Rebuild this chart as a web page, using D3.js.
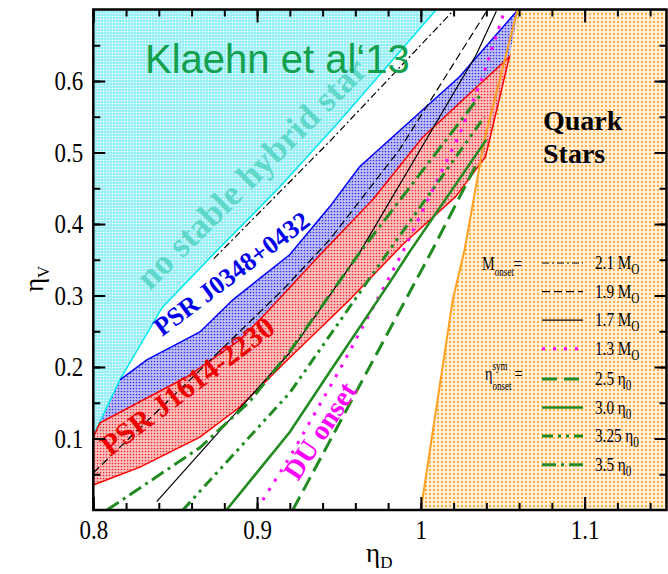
<!DOCTYPE html>
<html>
<head>
<meta charset="utf-8">
<script src="https://cdn.jsdelivr.net/npm/d3@7/dist/d3.min.js"></script>
<style>
  body { margin: 0; background: #fff; }
  svg { display: block; }
</style>
</head>
<body>
<svg id="chart" width="668" height="574"></svg>
<script>
"use strict";

// points are [eta_D, eta_V]
const cyanEdge  = [[0.8,0.104],[0.816,0.181],[0.842,0.283],[0.876,0.364],[0.914,0.452],[0.950,0.543],[1.0095,0.70]];
const blueUpper = [[0.8163,0.182],[0.8327,0.210],[0.8651,0.249],[0.8852,0.294],[0.9199,0.357],[0.9443,0.424],[0.9626,0.480],[1.0236,0.606],[1.0595,0.70]];
const redUpper  = [[0.8,0.102],[0.8041,0.122],[0.857,0.186],[0.8895,0.238],[0.9057,0.276],[0.9401,0.361],[0.9706,0.434],[1.001,0.521],[1.0358,0.595],[1.0541,0.634]];
const redLower  = [[0.8,0.035],[0.8285,0.060],[0.8651,0.102],[0.8895,0.144],[0.9199,0.213],[0.9565,0.294],[0.9888,0.371],[1.0212,0.438],[1.0395,0.494]];
const quarkEdge = [[1.0,0.0],[1.0195,0.294],[1.0267,0.364],[1.0388,0.518],[1.0591,0.70]];

// M_onset curves
const m21 = [[0.8736,0.3515],[0.9443,0.5154],[1.0205,0.70]];
const m19 = [[0.8,0.052],[0.859,0.182],[0.9157,0.308],[0.9443,0.378],[0.987,0.504],[1.040,0.697]];
const m17 = [[0.8387,0.0116],[0.9199,0.2199],[0.9626,0.360],[1.0339,0.637],[1.0461,0.6975]];
const m13 = [[0.9035,0.014],[0.920,0.074],[0.9504,0.196],[0.9888,0.360],[1.0102,0.462],[1.0236,0.525],[1.0376,0.605],[1.051,0.6975]];

// n_onset^sym curves
const n25  = [[0.9218,0.0],[1.0071,0.364],[1.0345,0.486]];
const n30  = [[0.8813,0.0],[0.920,0.109],[0.9443,0.193],[0.9809,0.318],[0.9931,0.361],[1.040,0.518]];
const n325 = [[0.8547,0.0],[0.920,0.164],[0.981,0.364],[1.0389,0.550]];
const n35  = [[0.8084,0.0],[0.865,0.087],[0.8956,0.152],[0.920,0.222],[0.9627,0.360],[1.0376,0.584]];

const xMajor = [0.8, 0.9, 1.0, 1.1];
const xTickLabels = ["0.8", "0.9", "1", "1.1"];
const yMajor = [0.1, 0.2, 0.3, 0.4, 0.5, 0.6];
const yTickLabels = ["0.1", "0.2", "0.3", "0.4", "0.5", "0.6"];

const legendKeys   = ["m21", "m19", "m17", "m13", "n25", "n30", "n325", "n35"];
const legendValues = ["2.1", "1.9", "1.7", "1.3", "2.5", "3.0", "3.25", "3.5"];
const legendUnits  = ["M", "M", "M", "M", "η", "η", "η", "η"];
const legendSubs   = ["O", "O", "O", "O", "0", "0", "0", "0"];

const curves = {m21: m21, m19: m19, m17: m17, m13: m13, n25: n25, n30: n30, n325: n325, n35: n35};

// line styles
const styles = {
    m21:  {stroke: "#000", width: 1.2, dash: "7,3,2,3"},
    m19:  {stroke: "#000", width: 1.2, dash: "8,4"},
    m17:  {stroke: "#000", width: 1.2, dash: null},
    m13:  {stroke: "#ff00ff", width: 3, dash: "3,8"},
    n25:  {stroke: "#228b22", width: 3, dash: "15,7"},
    n30:  {stroke: "#228b22", width: 2.6, dash: null},
    n325: {stroke: "#228b22", width: 3, dash: "11,5,3,5,3,5"},
    n35:  {stroke: "#228b22", width: 3, dash: "14,5,3,5"}
};

const svg = d3.select("#chart");
const x = d3.scaleLinear().domain([0.8, 1.15]).range([93.3, 666.5]);
const y = d3.scaleLinear().domain([0, 0.7]).range([510, 9.5]);

const line = d3.line().x(d => x(d[0])).y(d => y(d[1]));

const defs = svg.append("defs");
defs.append("clipPath").attr("id", "plotclip")
    .append("rect")
    .attr("x", x(0.8)).attr("y", y(0.7))
    .attr("width", x(1.15) - x(0.8)).attr("height", y(0) - y(0.7));

function dotPattern(id, bg, dot, size, r) {
    const p = defs.append("pattern").attr("id", id)
        .attr("patternUnits", "userSpaceOnUse")
        .attr("width", size).attr("height", size);
    p.append("rect").attr("width", size).attr("height", size).attr("fill", bg);
    p.append("circle").attr("cx", size / 2).attr("cy", size / 2).attr("r", r).attr("fill", dot);
}
dotPattern("pcyan", "#98eff6", "#ffffff", 3, 0.8);
dotPattern("pblue", "#c2c2f6", "#3434e0", 3, 0.85);
dotPattern("pred", "#fbc4c4", "#ee2a2a", 3, 0.85);
dotPattern("porange", "#fff3e2", "#ffb040", 4, 1.2);

const plot = svg.append("g").attr("clip-path", "url(#plotclip)");

// filled regions
plot.append("path")
    .attr("d", line([[0.8, 0.7]].concat(cyanEdge)) + "Z")
    .attr("fill", "url(#pcyan)");
plot.append("path")
    .attr("d", line(quarkEdge.concat([[1.15, 0.7], [1.15, 0]])) + "Z")
    .attr("fill", "url(#porange)");
plot.append("path")
    .attr("d", line(blueUpper.concat(redUpper.slice().reverse())) + "Z")
    .attr("fill", "url(#pblue)");
plot.append("path")
    .attr("d", line(redUpper.concat(redLower.slice().reverse())) + "Z")
    .attr("fill", "url(#pred)");

// region edges
plot.append("path").attr("d", line(cyanEdge)).attr("fill", "none").attr("stroke", "#00e8f0").attr("stroke-width", 1.5);
plot.append("path").attr("d", line(blueUpper)).attr("fill", "none").attr("stroke", "#0000ff").attr("stroke-width", 1.5);
plot.append("path").attr("d", line(redUpper.concat(redLower.slice().reverse())))
    .attr("fill", "none").attr("stroke", "#ff0000").attr("stroke-width", 1.5);
plot.append("path").attr("d", line(quarkEdge)).attr("fill", "none").attr("stroke", "#ffa020").attr("stroke-width", 2);

// onset curves
legendKeys.forEach(k => {
    const s = styles[k];
    plot.append("path").attr("d", line(curves[k]))
        .attr("fill", "none").attr("stroke", s.stroke)
        .attr("stroke-width", s.width)
        .attr("stroke-dasharray", s.dash);
});

// labels inside plot
const serif = "'Liberation Serif', 'Times New Roman', serif";
function rotText(tx, ty, ang, size, color, str) {
    svg.append("text")
        .attr("transform", `translate(${tx},${ty}) rotate(${ang})`)
        .attr("font-family", serif).attr("font-weight", "bold")
        .attr("font-size", size).attr("fill", color).text(str);
}
rotText(150, 291, -45, 35, "#5fd8c9", "no stable hybrid star");
rotText(162, 337, -37, 26, "#0000ee", "PSR J0348+0432");
rotText(110, 457, -37, 30, "#ee0000", "PSR J1614-2230");
rotText(298, 482, -57, 28, "#ff00ff", "DU onset");

svg.append("text").attr("x", 543).attr("y", 130)
    .attr("font-family", serif).attr("font-weight", "bold").attr("font-size", 28).text("Quark");
svg.append("text").attr("x", 543).attr("y", 163)
    .attr("font-family", serif).attr("font-weight", "bold").attr("font-size", 28).text("Stars");

svg.append("text").attr("x", 145).attr("y", 73)
    .attr("font-family", "'Liberation Sans', Arial, sans-serif")
    .attr("font-size", 40).attr("fill", "#14a04c").text("Klaehn et al‘13");

// legend
const legY = i => 263 + i * 28.6 + (i > 3 ? 1.5 : 0);
legendKeys.forEach((k, i) => {
    const s = styles[k];
    svg.append("line")
        .attr("x1", 542).attr("x2", 583).attr("y1", legY(i)).attr("y2", legY(i))
        .attr("stroke", s.stroke).attr("stroke-width", s.width)
        .attr("stroke-dasharray", s.dash);
    const t = svg.append("text")
        .attr("transform", `translate(595,${legY(i) + 6}) scale(0.8,1)`)
        .attr("font-family", serif).attr("font-size", 19);
    t.append("tspan").text(legendValues[i] + " " + legendUnits[i]);
    t.append("tspan").attr("font-size", 14).attr("dy", 5).text(legendSubs[i]);
});

const h1 = svg.append("text")
    .attr("transform", `translate(482,270) scale(0.75,1)`)
    .attr("font-family", serif).attr("font-size", 19);
h1.append("tspan").text("M");
h1.append("tspan").attr("font-size", 12).attr("dy", 6).text("onset");
h1.append("tspan").attr("dy", -6).text("=");

const h2 = svg.append("text")
    .attr("transform", `translate(485,380) scale(0.75,1)`)
    .attr("font-family", serif).attr("font-size", 19);
h2.append("tspan").text("η");
h2.append("tspan").attr("font-size", 12).attr("dy", -10).text("sym");
h2.append("tspan").attr("font-size", 12).attr("dx", -20).attr("dy", 20).text("onset");
h2.append("tspan").attr("dx", 4).attr("dy", -10).text("=");

// axes: ticks point inwards
function styleAxis(g) {
    g.select(".domain").remove();
    g.selectAll(".tick line").attr("stroke", "#000").attr("stroke-width", 2);
    g.selectAll("text").attr("font-family", serif).attr("font-size", 27).attr("fill", "#000");
}
const xMinor = d3.range(0.8, 1.1501, 0.02);
const yMinor = d3.range(0.05, 0.7, 0.05);

svg.append("g").attr("transform", `translate(0,${y(0)})`)
    .call(d3.axisBottom(x).tickValues(xMinor).tickSize(-7).tickFormat("")).call(styleAxis);
svg.append("g").attr("transform", `translate(0,${y(0)})`)
    .call(d3.axisBottom(x).tickValues(xMajor).tickSize(-13).tickPadding(10)
        .tickFormat((d, i) => xTickLabels[i])).call(styleAxis)
    .selectAll("text").attr("transform", "scale(0.85,1)");
svg.append("g").attr("transform", `translate(0,${y(0.7)})`)
    .call(d3.axisTop(x).tickValues(xMinor).tickSize(-7).tickFormat("")).call(styleAxis);
svg.append("g").attr("transform", `translate(0,${y(0.7)})`)
    .call(d3.axisTop(x).tickValues(xMajor).tickSize(-13).tickFormat("")).call(styleAxis);

svg.append("g").attr("transform", `translate(${x(0.8)},0)`)
    .call(d3.axisLeft(y).tickValues(yMinor).tickSize(-7).tickFormat("")).call(styleAxis);
svg.append("g").attr("transform", `translate(${x(0.8)},0)`)
    .call(d3.axisLeft(y).tickValues(yMajor).tickSize(-12).tickPadding(12)
        .tickFormat((d, i) => yTickLabels[i])).call(styleAxis)
    .selectAll("text").attr("transform", "scale(0.85,1)");
svg.append("g").attr("transform", `translate(${x(1.15)},0)`)
    .call(d3.axisRight(y).tickValues(yMinor).tickSize(-7).tickFormat("")).call(styleAxis);
svg.append("g").attr("transform", `translate(${x(1.15)},0)`)
    .call(d3.axisRight(y).tickValues(yMajor).tickSize(-12).tickFormat("")).call(styleAxis);

svg.append("rect")
    .attr("x", x(0.8)).attr("y", y(0.7))
    .attr("width", x(1.15) - x(0.8)).attr("height", y(0) - y(0.7))
    .attr("fill", "none").attr("stroke", "#000").attr("stroke-width", 2.5);

// axis titles
const yl = svg.append("text")
    .attr("transform", "translate(43,292) rotate(-90)")
    .attr("font-family", serif).attr("font-size", 27);
yl.append("tspan").text("η");
yl.append("tspan").attr("font-size", 17).attr("dy", 6).text("V");

const xl = svg.append("text").attr("x", 366).attr("y", 562)
    .attr("font-family", serif).attr("font-size", 27);
xl.append("tspan").text("η");
xl.append("tspan").attr("font-size", 17).attr("dy", 6).text("D");
</script>
</body>
</html>
